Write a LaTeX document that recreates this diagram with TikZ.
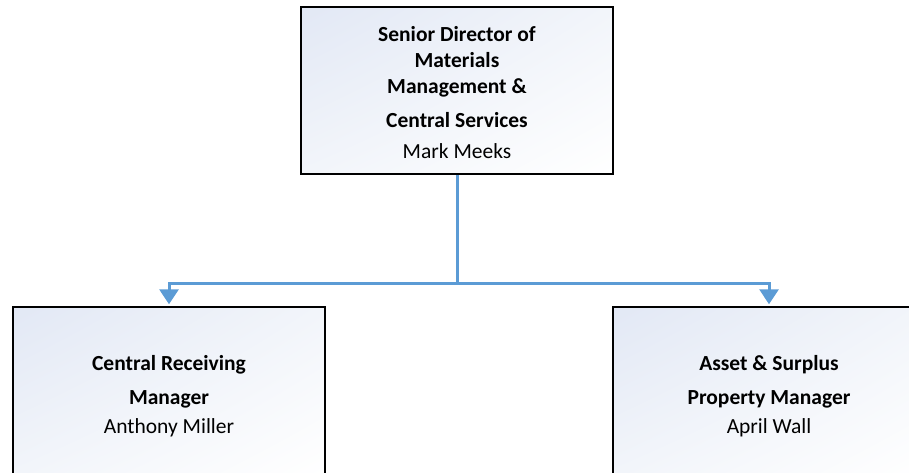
\documentclass[tikz,border=0pt]{standalone}
\usepackage{fontspec}
\setmainfont{Carlito}
\usetikzlibrary{arrows.meta,shadings}
\definecolor{boxtl}{RGB}{226,232,245}
\definecolor{boxmid}{RGB}{242,245,250}
\definecolor{conncol}{RGB}{91,155,213}
\newcommand{\boxtext}[2]{\raisebox{#1}[\height][\depth]{\begin{tabular}{@{}c@{}}#2\end{tabular}}}
\tikzset{
  orgbox/.style={draw=black, line width=2.5pt, minimum width=312pt, minimum height=167pt,
    upper left=boxtl, upper right=boxmid, lower left=boxmid, lower right=white,
    align=center, inner sep=0pt, font=\fontsize{21.5}{26}\selectfont},
  conn/.style={draw=conncol, line width=3pt},
  connarrow/.style={conn, -{Triangle[length=15pt,width=19pt]}, shorten >=1.5pt},
}
\begin{document}
\begin{tikzpicture}[x=1pt,y=1pt]
\useasboundingbox (0,0) rectangle (909,-472);
\clip (0,0) rectangle (909,-472);
\node[orgbox] (top) at (457,-90.5) {\boxtext{-4pt}{\textbf{Senior Director of}\\\textbf{Materials}\\\textbf{Management \&}\\[8pt]\textbf{Central Services}\\[5pt]Mark Meeks}};
\node[orgbox] (left) at (169,-390.5) {\boxtext{-6pt}{\textbf{Central Receiving}\\[8pt]\textbf{Manager}\\[3pt]Anthony Miller}};
\node[orgbox] (right) at (769,-390.5) {\boxtext{-6pt}{\textbf{Asset \& Surplus}\\[8pt]\textbf{Property Manager}\\[3pt]April Wall}};
\coordinate (j) at (457,-283);
\draw[conn] (top.south) -- (j);
\draw[connarrow] (j) -| (left.north);
\draw[connarrow] (j) -| (right.north);
\end{tikzpicture}
\end{document}
